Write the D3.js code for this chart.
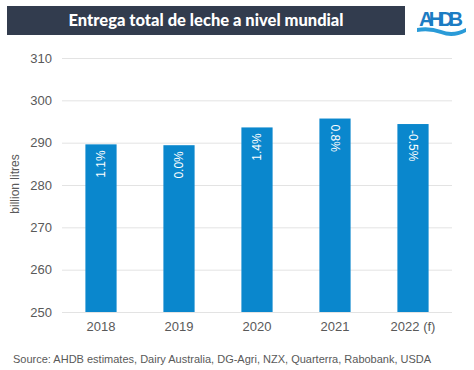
<!DOCTYPE html>
<html><head><meta charset="utf-8">
<script src="https://cdn.jsdelivr.net/npm/d3@7"></script>
<style>body{margin:0;background:#fff}svg{display:block}</style>
</head><body>
<svg id="c" width="474" height="370"></svg>
<script>
const categories = ["2018","2019","2020","2021","2022 (f)"];
const values = [289.6, 289.4, 293.6, 295.7, 294.4];
const changeLabels = ["1.1%","0.0%","1.4%","0.8%","-0.5%"];
const yTicks = [250,260,270,280,290,300,310];

const svg = d3.select("#c");
const font = "Liberation Sans, Arial, sans-serif";

// title bar
svg.append("rect").attr("x",7).attr("y",6).attr("width",398).attr("height",29).attr("fill","#323c4e");
svg.append("text").attr("x",206).attr("y",26).attr("text-anchor","middle")
  .attr("fill","#fff").attr("font-family","Lato, Open Sans, sans-serif").attr("font-weight","900")
  .attr("font-size",16.5).attr("textLength",275).text("Entrega total de leche a nivel mundial");

// logo
svg.append("text").attr("x",441).attr("y",26).attr("text-anchor","middle")
  .attr("fill","#1c7cc3").attr("font-family","Liberation Sans Narrow, Arial Narrow, Liberation Sans, sans-serif")
  .attr("font-weight","bold").attr("font-size",20).attr("textLength",44).text("AHDB");
svg.append("path").attr("d","M417,28 Q430,26 441,30 Q453,35 466,28 L466,32 Q453,39 441,34 Q430,30 417,32 Z")
  .attr("fill","#2a9bd8");

const x = d3.scaleBand().domain(categories).range([62,452]).paddingInner(0.6).paddingOuter(0.3);
const y = d3.scaleLinear().domain([250,310]).range([312,58]);

// gridlines
svg.append("g").selectAll("line").data(yTicks).join("line")
  .attr("x1",62).attr("x2",452).attr("y1",d=>y(d)+0.5).attr("y2",d=>y(d)+0.5)
  .attr("stroke","#e3e3e3").attr("stroke-width",1);

// y axis
const yAxis = d3.axisLeft(y).tickValues(yTicks).tickSize(0).tickPadding(10);
const gy = svg.append("g").attr("transform","translate(62,0)").call(yAxis);
gy.select(".domain").remove();
gy.selectAll("text").attr("font-family",font).attr("font-size",13).attr("fill","#595959");

// bars
svg.append("g").selectAll("rect").data(values).join("rect")
  .attr("x",(d,i)=>x(categories[i])).attr("width",x.bandwidth())
  .attr("y",d=>y(d)).attr("height",d=>y(250)-y(d)).attr("fill","#0a87cd");

// bar labels
svg.append("g").selectAll("text").data(values).join("text")
  .attr("transform",(d,i)=>{
    const cx = x(categories[i])+x.bandwidth()/2;
    const top = y(d)+6;
    return i<3 ? `translate(${cx+4},${top}) rotate(-90)` : `translate(${cx-4},${top}) rotate(90)`;
  })
  .attr("text-anchor",(d,i)=> i<3 ? "end" : "start")
  .attr("font-family",font).attr("font-size",12).attr("fill","#fff")
  .text((d,i)=>changeLabels[i]);

// x axis
const xAxis = d3.axisBottom(x).tickSize(0).tickPadding(10);
const gx = svg.append("g").attr("transform","translate(0,312)").call(xAxis);
gx.select(".domain").remove();
gx.selectAll("text").attr("font-family",font).attr("font-size",13).attr("fill","#595959");

// y title
svg.append("text").attr("transform","translate(19,184) rotate(-90)").attr("text-anchor","middle")
  .attr("font-family",font).attr("font-size",12).attr("fill","#595959").text("billion litres");

// source
svg.append("text").attr("x",13).attr("y",363).attr("font-family",font).attr("font-size",11)
  .attr("fill","#595959").text("Source: AHDB estimates, Dairy Australia, DG-Agri, NZX, Quarterra, Rabobank, USDA");
</script>
</body></html>
